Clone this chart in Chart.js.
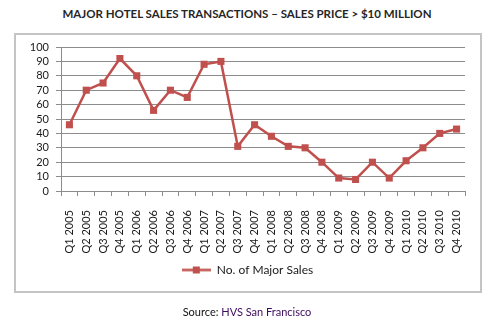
<!DOCTYPE html>
<html>
<head>
<meta charset="utf-8">
<script src="https://cdn.jsdelivr.net/npm/chart.js@4"></script>
<style>
  body { margin: 0; background: #fff; }
  #wrap { position: relative; width: 492px; height: 324px; font-family: Lato, sans-serif; }
  #title { position: absolute; left: 0; top: 7px; width: 494px; text-align: center;
           font-weight: bold; font-size: 11.5px; color: #262626; }
  #frame { position: absolute; left: 14px; top: 33px; width: 464px; height: 256px;
           border: 2px solid #c4c4c4; }
  #chart { position: absolute; left: 0; top: 0; }
  #source { position: absolute; left: 0; top: 305px; width: 494px; text-align: center;
            font-size: 11px; color: #111; }
  #source span { color: #3d0a5c; }
</style>
</head>
<body>
<div id="wrap">
  <div id="title">MAJOR HOTEL SALES TRANSACTIONS – SALES PRICE &gt; $10 MILLION</div>
  <div id="frame"></div>
  <canvas id="chart" width="492" height="324"></canvas>
  <div id="source">Source: <span>HVS San Francisco</span></div>
</div>
<script>
const quarters = [
  'Q1 2005', 'Q2 2005', 'Q3 2005', 'Q4 2005',
  'Q1 2006', 'Q2 2006', 'Q3 2006', 'Q4 2006',
  'Q1 2007', 'Q2 2007', 'Q3 2007', 'Q4 2007',
  'Q1 2008', 'Q2 2008', 'Q3 2008', 'Q4 2008',
  'Q1 2009', 'Q2 2009', 'Q3 2009', 'Q4 2009',
  'Q1 2010', 'Q2 2010', 'Q3 2010', 'Q4 2010'
];
const majorSales = [46, 70, 75, 92, 80, 56, 70, 65, 88, 90, 31, 46,
                    38, 31, 30, 20, 9, 8, 20, 9, 21, 30, 40, 43];
const seriesName = 'No. of Major Sales';
const yMin = 0, yMax = 100, yStep = 10;

const red = '#C0504D';

// legend icon: line with a square marker on it
const icon = document.createElement('canvas');
icon.width = 29; icon.height = 9;
const ic = icon.getContext('2d');
ic.strokeStyle = red; ic.lineWidth = 2.5;
ic.beginPath(); ic.moveTo(0, 4.5); ic.lineTo(29, 4.5); ic.stroke();
ic.fillStyle = red; ic.fillRect(11, 1, 7, 7);

new Chart(document.getElementById('chart'), {
  type: 'line',
  data: {
    labels: quarters,
    datasets: [{
      label: seriesName,
      data: majorSales,
      borderColor: red,
      backgroundColor: red,
      borderWidth: 2.5,
      pointStyle: 'rect',
      pointRadius: 5,
      pointBorderWidth: 0,
      tension: 0,
      fill: false
    }]
  },
  options: {
    responsive: false,
    animation: false,
    devicePixelRatio: 1,
    layout: { padding: { left: 30, right: 27, top: 47, bottom: 38 } },
    plugins: {
      tooltip: { enabled: false },
      legend: {
        position: 'bottom',
        labels: {
          font: { family: 'Lato', size: 12 },
          color: '#1a1a1a',
          usePointStyle: true,
          pointStyleWidth: 29,
          boxHeight: 9,
          padding: 10,
          generateLabels: () => [{
            text: seriesName,
            pointStyle: icon,
            fillStyle: red,
            strokeStyle: red,
            lineWidth: 0,
            hidden: false,
            datasetIndex: 0,
            fontColor: '#1a1a1a'
          }]
        }
      }
    },
    scales: {
      x: {
        offset: true,
        afterFit: s => { s.height = 63; },
        grid: { offset: true, drawOnChartArea: false, drawTicks: true, tickLength: 5, color: '#8c8c8c' },
        border: { color: '#8c8c8c' },
        ticks: {
          autoSkip: false, minRotation: 90, maxRotation: 90, padding: 14,
          font: { family: 'Lato', size: 11 }, color: '#1a1a1a'
        }
      },
      y: {
        min: yMin, max: yMax,
        afterFit: s => { s.width = 31; },
        grid: { color: '#8c8c8c', lineWidth: 1, tickLength: 5 },
        border: { color: '#8c8c8c' },
        ticks: {
          stepSize: yStep, autoSkip: false, padding: 7,
          font: { family: 'Lato', size: 11 }, color: '#1a1a1a'
        }
      }
    }
  }
});
</script>
</body>
</html>
